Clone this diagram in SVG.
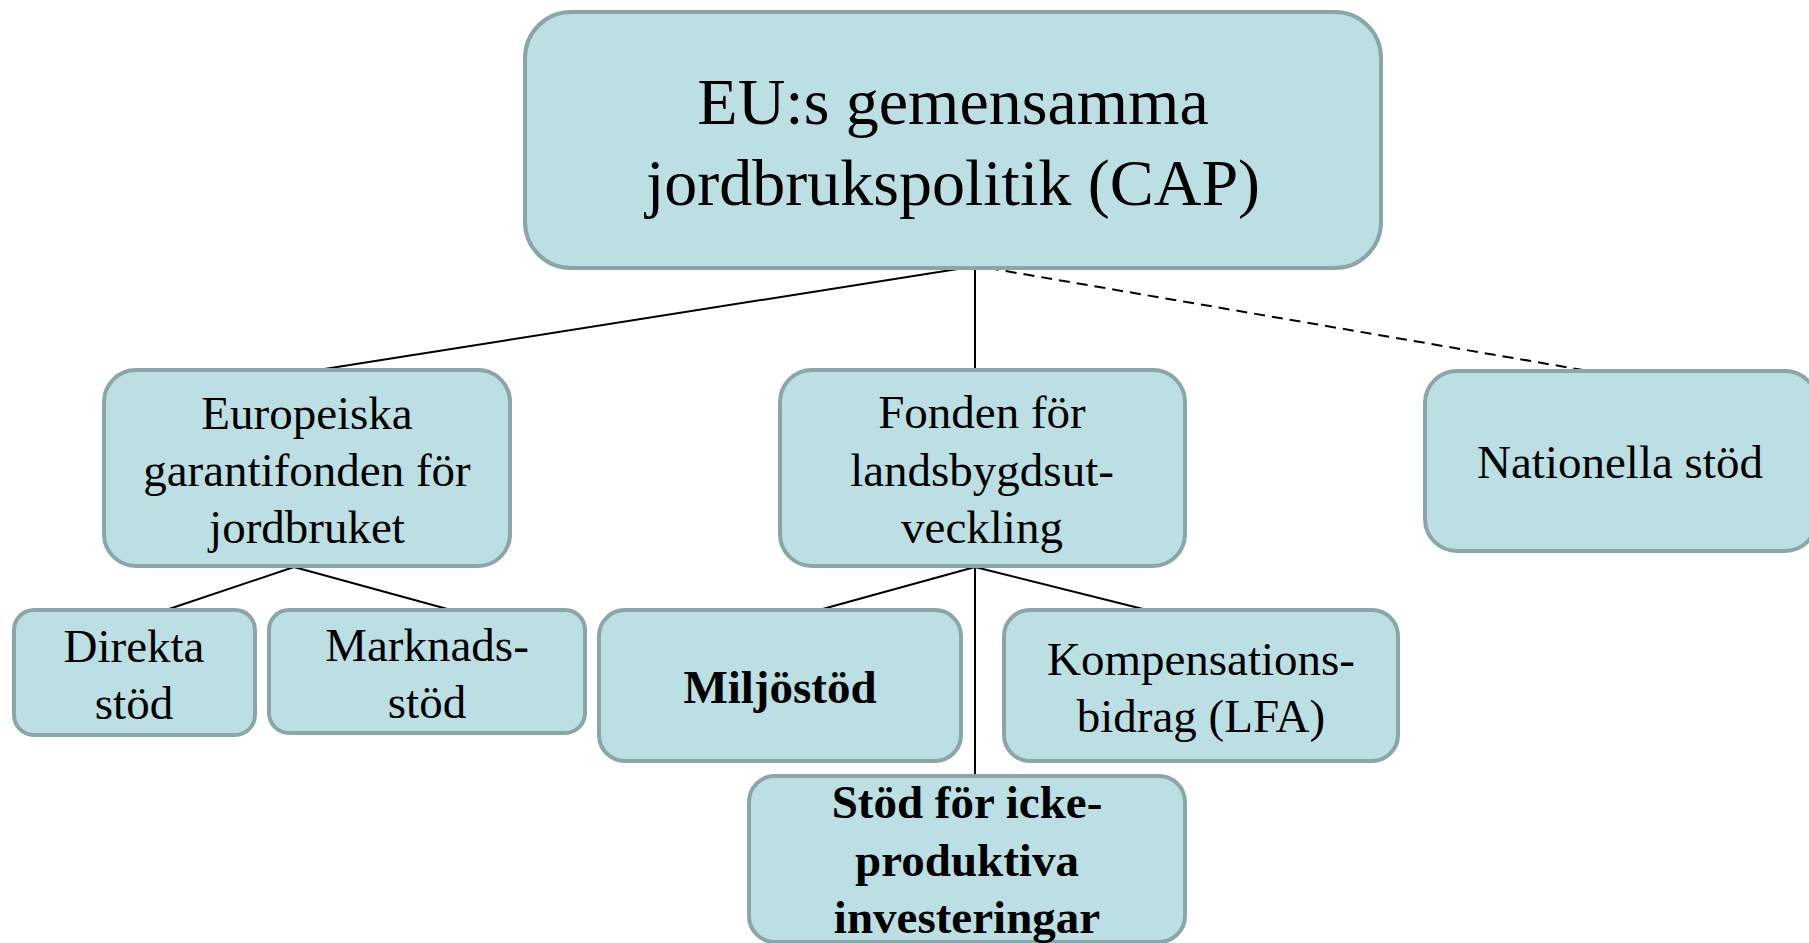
<svg xmlns="http://www.w3.org/2000/svg" width="1809" height="943" viewBox="0 0 1809 943">
<style>
.box{fill:#bbdfe3;stroke:#8aa6a9;stroke-width:4}
.t{font-family:"Liberation Serif","Times New Roman",serif;fill:#000;text-anchor:middle}
.m{font-size:47px}
.b{font-size:47px;font-weight:bold}
.big{font-size:66px}
.c{stroke:#000;stroke-width:2;fill:none}
.d{stroke:#000;stroke-width:2;fill:none;stroke-dasharray:11 7}
</style>
<rect width="1809" height="943" fill="#fff"/>
<g id="connectors">
<line class="c" x1="964" y1="268" x2="318" y2="370"/>
<line class="c" x1="975" y1="268" x2="975" y2="370" stroke-width="1.5"/>
<line class="d" x1="988" y1="268" x2="1583" y2="370"/>
<line class="c" x1="294" y1="567" x2="166" y2="610"/>
<line class="c" x1="294" y1="567" x2="451" y2="610"/>
<line class="c" x1="975" y1="567" x2="819" y2="610"/>
<line class="c" x1="975" y1="567" x2="1147" y2="610"/>
<line class="c" x1="975" y1="567" x2="975" y2="775" stroke-width="1.5"/>
</g>
<g id="cap">
<rect class="box" x="525" y="12" width="856" height="256" rx="46"/>
<text class="t big" x="953" y="124">EU:s gemensamma</text>
<text class="t big" x="953" y="205">jordbrukspolitik (CAP)</text>
</g>
<g id="europeiska">
<rect class="box" x="104" y="370" width="406" height="196" rx="32"/>
<text class="t m" x="307" y="429">Europeiska</text>
<text class="t m" x="307" y="486">garantifonden för</text>
<text class="t m" x="307" y="543">jordbruket</text>
</g>
<g id="fonden">
<rect class="box" x="780" y="370" width="405" height="196" rx="32"/>
<text class="t m" x="982" y="428">Fonden för</text>
<text class="t m" x="982" y="486">landsbygdsut-</text>
<text class="t m" x="982" y="543">veckling</text>
</g>
<g id="nationella">
<rect class="box" x="1425" y="371" width="392" height="180" rx="32"/>
<text class="t m" x="1620" y="478">Nationella stöd</text>
</g>
<g id="direkta">
<rect class="box" x="14" y="610" width="241" height="125" rx="20"/>
<text class="t m" x="134" y="662">Direkta</text>
<text class="t m" x="134" y="719">stöd</text>
</g>
<g id="marknads">
<rect class="box" x="269" y="610" width="316" height="123" rx="20"/>
<text class="t m" x="427" y="661">Marknads-</text>
<text class="t m" x="427" y="718">stöd</text>
</g>
<g id="miljo">
<rect class="box" x="599" y="610" width="362" height="151" rx="26"/>
<text class="t b" x="780" y="703">Miljöstöd</text>
</g>
<g id="kompensation">
<rect class="box" x="1004" y="610" width="394" height="151" rx="26"/>
<text class="t m" x="1201" y="675">Kompensations-</text>
<text class="t m" x="1201" y="732">bidrag (LFA)</text>
</g>
<g id="icke">
<rect class="box" x="749" y="776" width="436" height="166" rx="26"/>
<text class="t b" x="967" y="818">Stöd för icke-</text>
<text class="t b" x="967" y="876">produktiva</text>
<text class="t b" x="967" y="933">investeringar</text>
</g>
</svg>
